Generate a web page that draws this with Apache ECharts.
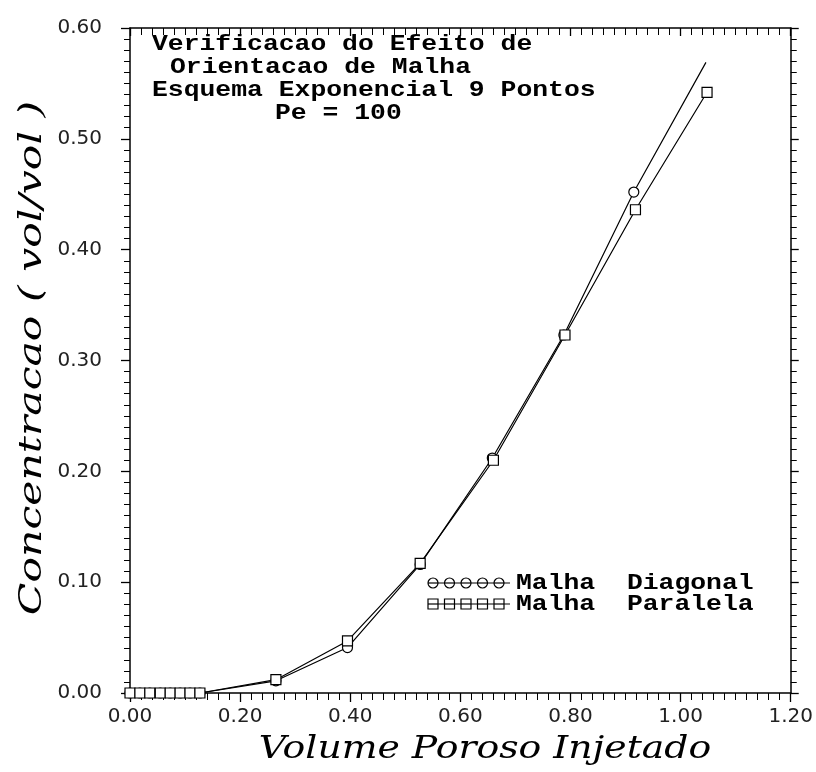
<!DOCTYPE html>
<html>
<head>
<meta charset="utf-8">
<script src="https://cdn.jsdelivr.net/npm/echarts@6/dist/echarts.min.js"></script>
<style>html,body{margin:0;padding:0;background:#fff}#c{width:816px;height:772px}</style>
</head>
<body>
<div id="c"></div>
<script>
// ---- data ----
const diagonalX = [0.000, 0.018, 0.036, 0.055, 0.073, 0.091, 0.109, 0.127, 0.265, 0.395, 0.527, 0.658, 0.788, 0.915, 1.046];
const diagonalY = [0.000, 0.000, 0.000, 0.000, 0.000, 0.000, 0.000, 0.000, 0.011, 0.041, 0.116, 0.212, 0.323, 0.452, 0.569];
const paralelaX = [0.000, 0.018, 0.036, 0.055, 0.073, 0.091, 0.109, 0.127, 0.265, 0.395, 0.527, 0.660, 0.790, 0.918, 1.048];
const paralelaY = [0.000, 0.000, 0.000, 0.000, 0.000, 0.000, 0.000, 0.000, 0.012, 0.047, 0.117, 0.210, 0.323, 0.436, 0.542];
const seriesNames = ['Malha  Diagonal', 'Malha  Paralela'];
const titleLines = ['Verificacao do Efeito de', 'Orientacao de Malha', 'Esquema Exponencial 9 Pontos', 'Pe = 100'];
const xTicks = [0.0, 0.2, 0.4, 0.6, 0.8, 1.0, 1.2];
const yTicks = [0.0, 0.1, 0.2, 0.3, 0.4, 0.5, 0.6];
const xTitle = 'Volume Poroso Injetado';
const yTitle = 'Concentracao ( vol/vol )';

const chart = echarts.init(document.getElementById('c'), null, {renderer: 'canvas'});

const lineStyleBase = {color: '#000', width: 1.2};

function pts(xs, ys) { return xs.map((x, i) => [x, ys[i]]); }
const diagData = pts(diagonalX, diagonalY).map((p, i, a) =>
  i === a.length - 1 ? {value: p, symbol: 'none'} : p);
const paraData = pts(paralelaX, paralelaY);

const tickLabel = {fontFamily: 'DejaVu Sans', fontSize: 20, color: '#222',
  formatter: v => Number(v).toFixed(2)};

// title graphics (annotation text)
const titleLefts = [152, 170, 152, 275];
const titleMids = [44, 67, 90, 113];
const graphics = titleLines.map((t, i) => ({
  type: 'text', x: titleLefts[i], y: titleMids[i], scaleX: 1.2, silent: true,
  style: {text: t, font: 'bold 22px "Liberation Mono"', fill: '#000', textAlign: 'left', textVerticalAlign: 'middle'}
}));

// axis titles (stretched serif italic, as in the original print)
graphics.push({type: 'text', x: 485, y: 750, scaleX: 1.18, silent: true,
  style: {text: xTitle, font: 'italic 32px "DejaVu Serif"', fill: '#000', textAlign: 'center', textVerticalAlign: 'middle'}});
graphics.push({type: 'text', x: 33, y: 358, rotation: Math.PI / 2, scaleX: 1.33, silent: true,
  style: {text: yTitle, font: 'italic 32px "DejaVu Serif"', fill: '#000', textAlign: 'center', textVerticalAlign: 'middle'}});

// legend drawn as graphics (5 symbols joined by a line)
const legendRows = [{y: 583, sym: 'circle'}, {y: 604, sym: 'rect'}];
legendRows.forEach((r, k) => {
  graphics.push({type: 'line', silent: true, shape: {x1: 428, y1: r.y, x2: 510, y2: r.y}, style: {stroke: '#000', lineWidth: 1.2}});
  for (let j = 0; j < 5; j++) {
    const cx = 433 + j * 16.5;
    if (r.sym === 'circle') {
      graphics.push({type: 'circle', silent: true, shape: {cx: cx, cy: r.y, r: 5}, style: {fill: '#fff', stroke: '#000', lineWidth: 1.2}});
    } else {
      graphics.push({type: 'rect', silent: true, shape: {x: cx - 5, y: r.y - 5, width: 10, height: 10}, style: {fill: '#fff', stroke: '#000', lineWidth: 1.2}});
    }
    graphics.push({type: 'line', silent: true, shape: {x1: cx - 5, y1: r.y, x2: cx + 5, y2: r.y}, style: {stroke: '#000', lineWidth: 1.2}});
  }
  graphics.push({type: 'text', x: 516, y: r.y, scaleX: 1.2, silent: true,
    style: {text: seriesNames[k], font: 'bold 22px "Liberation Mono"', fill: '#000', textAlign: 'left', textVerticalAlign: 'middle'}});
});

const axLine = {show: true, onZero: false, lineStyle: {color: '#000', width: 1.5}};

const option = {
  backgroundColor: '#fff',
  animation: false,
  grid: {left: 130, right: 24, top: 28, bottom: 79},
  xAxis: [{
    type: 'value', min: 0, max: 1.2, interval: 0.2, position: 'bottom',
    axisLine: axLine,
    axisTick: {inside: false, length: 9, lineStyle: {color: '#000', width: 1.3}},
    minorTick: {show: true, splitNumber: 10, length: 7, lineStyle: {color: '#000', width: 1}},
    splitLine: {show: false},
    axisLabel: Object.assign({margin: 14}, tickLabel)
  }, {
    type: 'value', min: 0, max: 1.2, interval: 0.2, position: 'top',
    axisLine: axLine,
    axisTick: {inside: true, length: 8, lineStyle: {color: '#000', width: 1.3}},
    minorTick: {show: true, splitNumber: 10, length: 7, lineStyle: {color: '#000', width: 1}},
    splitLine: {show: false}, axisLabel: {show: false}
  }],
  yAxis: [{
    type: 'value', min: 0, max: 0.6, interval: 0.1, position: 'left',
    axisLine: axLine,
    axisTick: {show: true, inside: false, length: 9, lineStyle: {color: '#000', width: 1.3}},
    minorTick: {show: true, splitNumber: 10, length: 6, lineStyle: {color: '#000', width: 1}},
    splitLine: {show: false},
    axisLabel: Object.assign({margin: 28}, tickLabel)
  }, {
    type: 'value', min: 0, max: 0.6, interval: 0.1, position: 'right',
    axisLine: axLine,
    axisTick: {show: true, inside: false, length: 8, lineStyle: {color: '#000', width: 1.3}},
    minorTick: {show: true, splitNumber: 10, length: 6, lineStyle: {color: '#000', width: 1}},
    splitLine: {show: false}, axisLabel: {show: false}
  }],
  series: [{
    name: seriesNames[0], type: 'line', xAxisIndex: 0, yAxisIndex: 0, data: diagData,
    symbol: 'circle', symbolSize: 10, showAllSymbol: true,
    lineStyle: lineStyleBase,
    itemStyle: {color: '#fff', borderColor: '#000', borderWidth: 1.2},
    z: 3
  }, {
    name: seriesNames[1], type: 'line', xAxisIndex: 0, yAxisIndex: 0, data: paraData,
    symbol: 'rect', symbolSize: 10, showAllSymbol: true,
    lineStyle: lineStyleBase,
    itemStyle: {color: '#fff', borderColor: '#000', borderWidth: 1.2},
    z: 3
  }],
  graphic: graphics
};
chart.setOption(option);
</script>
</body>
</html>
